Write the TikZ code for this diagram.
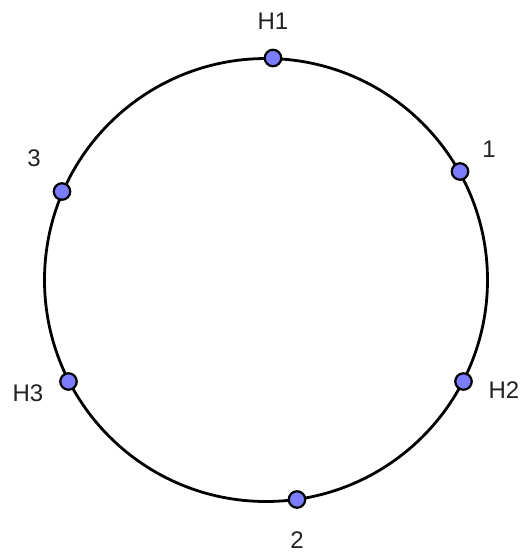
\documentclass[tikz,border=0pt]{standalone}
\usepackage{fontspec}
\setmainfont{Liberation Sans}
\definecolor{dotfill}{HTML}{7C7CFF}
\definecolor{lbl}{HTML}{222222}
\begin{document}
\begin{tikzpicture}[x=1pt,y=-1pt,
  pt/.style={circle,draw=black,fill=dotfill,line width=2.2pt,inner sep=0pt,minimum size=16.5pt},
  lab/.style={text=lbl,font=\fontsize{24}{28}\selectfont,inner sep=0pt,anchor=center}]
\useasboundingbox (0,0) rectangle (524,552);
\coordinate (c) at (266,280);
\draw[line width=2.8pt] (c) circle[radius=221.5];
\node[pt] (h1) at (273,58) {};
\node[pt] (p1) at (460,171.5) {};
\node[pt] (p3) at (62,191.5) {};
\node[pt] (h3) at (68.5,381.5) {};
\node[pt] (h2) at (463.5,381.5) {};
\node[pt] (p2) at (297,499.5) {};
\node[lab] (lh1) at (273,21) {H1};
\node[lab] (lp1) at (489,149) {1};
\node[lab] (lp3) at (34,158) {3};
\node[lab] (lh3) at (28,393) {H3};
\node[lab] (lh2) at (504,390) {H2};
\node[lab] (lp2) at (297,540) {2};
\end{tikzpicture}
\end{document}
